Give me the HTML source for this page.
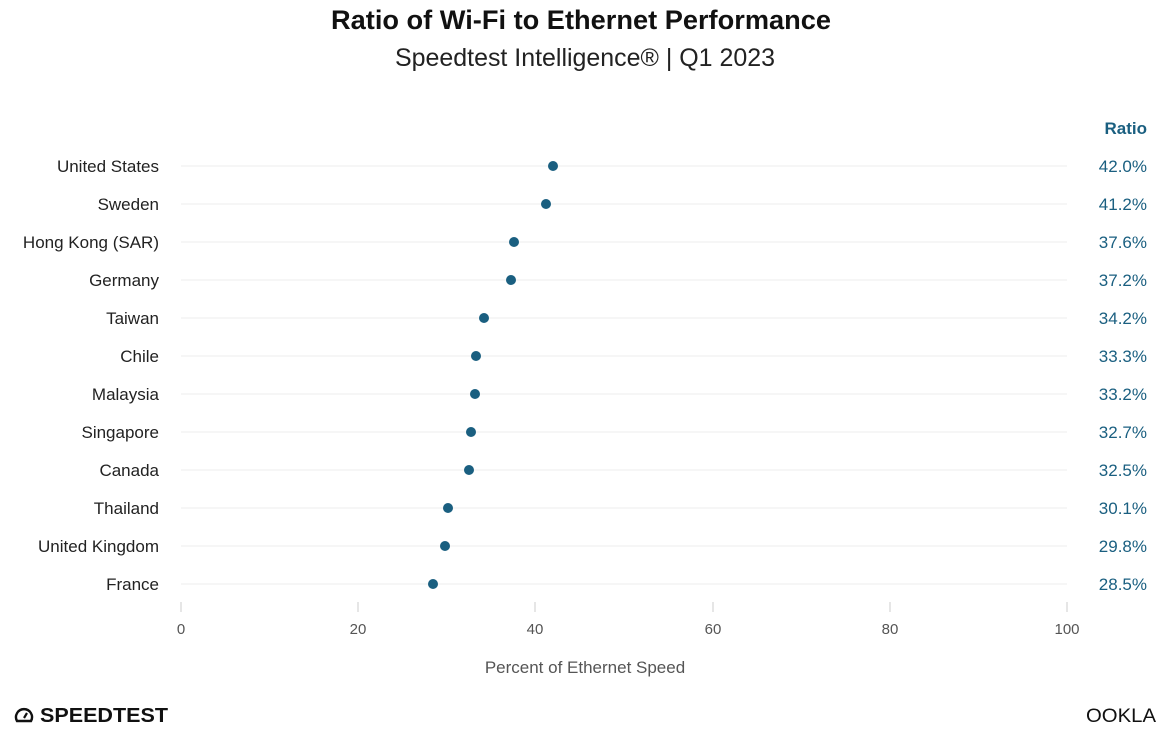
<!DOCTYPE html>
<html><head><meta charset="utf-8"><style>
body{margin:0;background:#fff;}
svg{display:block;font-family:"Liberation Sans",sans-serif;}
</style></head><body>
<svg width="1172" height="733" viewBox="0 0 1172 733">
<text x="581" y="29" text-anchor="middle" font-size="27" font-weight="bold" fill="#111" textLength="500" lengthAdjust="spacingAndGlyphs">Ratio of Wi-Fi to Ethernet Performance</text>
<text x="585" y="66" text-anchor="middle" font-size="25" fill="#222" textLength="380" lengthAdjust="spacingAndGlyphs">Speedtest Intelligence® | Q1 2023</text>
<text x="1147" y="134" text-anchor="end" font-size="17" font-weight="bold" fill="#1a5f80">Ratio</text>
<g stroke="#eee" stroke-width="1">
<line x1="181" y1="166" x2="1067" y2="166"/><line x1="181" y1="204" x2="1067" y2="204"/><line x1="181" y1="242" x2="1067" y2="242"/><line x1="181" y1="280" x2="1067" y2="280"/><line x1="181" y1="318" x2="1067" y2="318"/><line x1="181" y1="356" x2="1067" y2="356"/><line x1="181" y1="394" x2="1067" y2="394"/><line x1="181" y1="432" x2="1067" y2="432"/><line x1="181" y1="470" x2="1067" y2="470"/><line x1="181" y1="508" x2="1067" y2="508"/><line x1="181" y1="546" x2="1067" y2="546"/><line x1="181" y1="584" x2="1067" y2="584"/>
</g>
<g font-size="17" fill="#222" text-anchor="end">
<text x="159" y="172">United States</text><text x="159" y="210">Sweden</text><text x="159" y="248">Hong Kong (SAR)</text><text x="159" y="286">Germany</text><text x="159" y="324">Taiwan</text><text x="159" y="362">Chile</text><text x="159" y="400">Malaysia</text><text x="159" y="438">Singapore</text><text x="159" y="476">Canada</text><text x="159" y="514">Thailand</text><text x="159" y="552">United Kingdom</text><text x="159" y="590">France</text>
</g>
<g fill="#1a5f80">
<circle cx="553" cy="166" r="5"/><circle cx="546" cy="204" r="5"/><circle cx="514" cy="242" r="5"/><circle cx="511" cy="280" r="5"/><circle cx="484" cy="318" r="5"/><circle cx="476" cy="356" r="5"/><circle cx="475" cy="394" r="5"/><circle cx="471" cy="432" r="5"/><circle cx="469" cy="470" r="5"/><circle cx="448" cy="508" r="5"/><circle cx="445" cy="546" r="5"/><circle cx="433" cy="584" r="5"/>
</g>
<g font-size="17" fill="#1a5f80" text-anchor="end">
<text x="1147" y="172">42.0%</text><text x="1147" y="210">41.2%</text><text x="1147" y="248">37.6%</text><text x="1147" y="286">37.2%</text><text x="1147" y="324">34.2%</text><text x="1147" y="362">33.3%</text><text x="1147" y="400">33.2%</text><text x="1147" y="438">32.7%</text><text x="1147" y="476">32.5%</text><text x="1147" y="514">30.1%</text><text x="1147" y="552">29.8%</text><text x="1147" y="590">28.5%</text>
</g>
<g stroke="#ccc" stroke-width="1">
<line x1="181" y1="602" x2="181" y2="612"/><line x1="358" y1="602" x2="358" y2="612"/><line x1="535" y1="602" x2="535" y2="612"/><line x1="713" y1="602" x2="713" y2="612"/><line x1="890" y1="602" x2="890" y2="612"/><line x1="1067" y1="602" x2="1067" y2="612"/>
</g>
<g font-size="15" fill="#555" text-anchor="middle">
<text x="181" y="634">0</text><text x="358" y="634">20</text><text x="535" y="634">40</text><text x="713" y="634">60</text><text x="890" y="634">80</text><text x="1067" y="634">100</text>
</g>
<text x="585" y="673" text-anchor="middle" font-size="17" fill="#555">Percent of Ethernet Speed</text>
<g transform="translate(24,717)"><path d="M-7 4 A8 8 0 1 1 7 4 Z" fill="none" stroke="#111" stroke-width="2.4"/><line x1="0" y1="1" x2="3" y2="-4" stroke="#111" stroke-width="2.2"/></g>
<text x="40" y="722" font-size="20" font-weight="bold" fill="#111" textLength="128" lengthAdjust="spacingAndGlyphs">SPEEDTEST</text>
<text x="1086" y="722" font-size="19" fill="#111" textLength="70" lengthAdjust="spacingAndGlyphs">OOKLA</text>
</svg>
</body></html>
